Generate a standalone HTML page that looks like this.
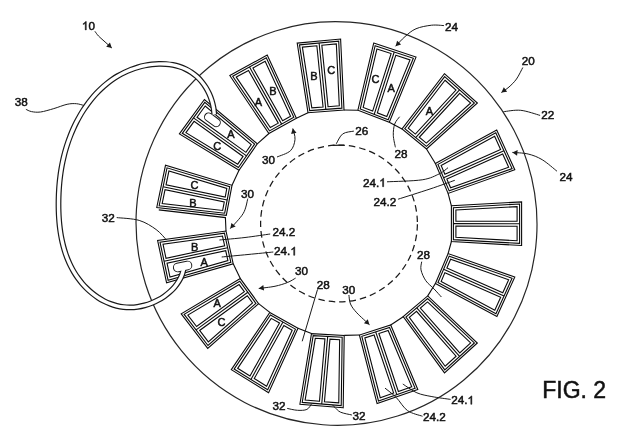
<!DOCTYPE html>
<html><head><meta charset="utf-8"><style>
html,body{margin:0;padding:0;background:#fff;width:640px;height:442px;overflow:hidden;font-family:"Liberation Sans",sans-serif}
svg{display:block;filter:grayscale(1)}
text{-webkit-font-smoothing:antialiased}
</style></head><body>
<svg width="640" height="442" viewBox="0 0 640 442">
<rect width="640" height="442" fill="#fff"/>
<ellipse cx="336.52" cy="223.48" rx="200.35" ry="201.95" transform="rotate(162.41 336.52 223.48)" fill="none" stroke="#262626" stroke-width="1.2"/>
<circle cx="339" cy="223.5" r="78.4" fill="none" stroke="#1a1a1a" stroke-width="1.25" stroke-dasharray="6.5 4" stroke-dashoffset="9.7"/>
<path d="M332.6 145.3 L344.2 145.2" stroke="#1a1a1a" stroke-width="1.25" fill="none"/>
<g fill="none" stroke="#0a0a0a" stroke-width="1.1" stroke-linejoin="miter">
<path d="M156.75 207.50 L165.50 165.30 L232.00 185.30 L226.30 215.40 Z"/>
<path d="M159.15 205.76 L167.02 167.84 L229.70 186.70 L224.68 213.20 Z"/>
<path d="M163.08 186.80 L227.19 199.95"/>
<path d="M162.16 203.59 L165.03 189.75 L224.28 201.90 L222.66 210.46 Z"/>
<path d="M166.04 184.86 L168.91 171.02 L226.82 188.44 L225.21 196.99 Z"/>
<path d="M179.40 133.90 L204.40 99.50 L257.30 143.80 L239.00 170.20 Z"/>
<path d="M182.29 133.32 L204.76 102.41 L254.62 144.16 L238.43 167.51 Z"/>
<path d="M193.53 117.86 L246.52 155.84"/>
<path d="M185.91 132.60 L194.09 121.34 L243.07 156.43 L237.72 164.15 Z"/>
<path d="M197.03 117.30 L205.21 106.04 L251.26 144.61 L245.92 152.33 Z"/>
<path d="M229.80 75.50 L267.20 55.10 L296.40 118.20 L268.90 133.50 Z"/>
<path d="M232.69 76.20 L266.28 57.88 L293.81 117.35 L269.53 130.86 Z"/>
<path d="M249.48 67.04 L281.67 124.11"/>
<path d="M236.29 77.08 L248.52 70.42 L278.26 123.15 L270.32 127.56 Z"/>
<path d="M252.91 68.02 L265.13 61.35 L290.56 116.30 L282.63 120.71 Z"/>
<path d="M297.20 43.10 L340.60 39.00 L344.00 110.00 L308.00 112.70 Z"/>
<path d="M299.50 44.89 L338.70 41.19 L341.91 108.15 L309.69 110.57 Z"/>
<path d="M319.10 43.04 L325.80 109.36"/>
<path d="M302.38 47.13 L316.86 45.76 L323.06 107.06 L311.81 107.90 Z"/>
<path d="M321.84 45.29 L336.33 43.92 L339.30 105.84 L328.04 106.68 Z"/>
<path d="M373.70 43.10 L416.00 57.10 L389.30 122.30 L357.90 110.20 Z"/>
<path d="M375.15 45.69 L413.34 58.33 L388.19 119.73 L360.25 108.96 Z"/>
<path d="M394.24 52.01 L374.22 114.35"/>
<path d="M376.95 48.92 L391.10 53.60 L372.65 111.06 L363.18 107.41 Z"/>
<path d="M395.85 55.17 L410.01 59.86 L386.81 116.52 L377.32 112.86 Z"/>
<path d="M444.40 73.70 L477.40 103.00 L426.50 149.00 L402.00 129.00 Z"/>
<path d="M444.68 76.62 L474.40 103.01 L426.43 146.36 L404.77 128.68 Z"/>
<path d="M459.54 89.82 L415.60 137.52"/>
<path d="M445.03 80.28 L455.98 90.00 L415.36 134.09 L408.23 128.27 Z"/>
<path d="M459.72 93.32 L470.66 103.03 L426.35 143.07 L419.24 137.26 Z"/>
<path d="M496.70 130.00 L514.80 169.80 L448.10 193.40 L435.40 163.50 Z"/>
<path d="M495.77 132.79 L512.08 168.64 L449.21 190.89 L437.95 164.39 Z"/>
<path d="M503.92 150.71 L443.58 177.64"/>
<path d="M494.61 136.27 L500.61 149.46 L444.88 174.32 L441.14 165.49 Z"/>
<path d="M502.68 154.01 L508.67 167.19 L450.59 187.75 L446.84 178.92 Z"/>
<path d="M521.60 201.90 L521.60 245.50 L451.40 241.50 L451.40 205.80 Z"/>
<path d="M519.60 204.01 L519.60 243.38 L453.40 239.61 L453.40 207.69 Z"/>
<path d="M519.60 223.70 L453.40 223.65"/>
<path d="M517.10 206.66 L517.10 221.20 L455.90 221.15 L455.90 210.06 Z"/>
<path d="M517.10 226.20 L517.10 240.74 L455.90 237.25 L455.90 226.15 Z"/>
<path d="M514.80 277.10 L496.90 316.40 L435.40 283.50 L448.10 253.60 Z"/>
<path d="M512.07 278.26 L495.96 313.63 L437.96 282.60 L449.21 256.11 Z"/>
<path d="M504.02 295.95 L443.58 269.35"/>
<path d="M508.67 279.71 L502.77 292.66 L446.85 268.06 L450.59 259.25 Z"/>
<path d="M500.69 297.21 L494.79 310.17 L441.15 281.47 L444.89 272.66 Z"/>
<path d="M477.30 343.00 L444.50 372.90 L403.20 316.70 L427.70 295.90 Z"/>
<path d="M474.36 342.97 L444.80 369.92 L405.92 317.02 L427.63 298.59 Z"/>
<path d="M459.58 356.45 L416.77 307.80"/>
<path d="M470.69 342.93 L459.78 352.89 L420.33 308.06 L427.53 301.95 Z"/>
<path d="M456.08 356.25 L445.16 366.21 L409.31 317.42 L416.52 311.30 Z"/>
<path d="M417.80 389.50 L377.10 403.60 L359.40 335.00 L390.70 325.00 Z"/>
<path d="M415.13 388.31 L378.49 401.00 L361.81 336.33 L389.57 327.46 Z"/>
<path d="M396.81 394.65 L375.69 331.90"/>
<path d="M411.79 386.82 L398.38 391.47 L378.87 333.50 L388.15 330.54 Z"/>
<path d="M393.65 393.10 L380.24 397.75 L364.82 337.99 L374.10 335.03 Z"/>
<path d="M343.20 407.80 L299.90 404.20 L311.50 333.60 L344.20 335.40 Z"/>
<path d="M341.23 405.63 L302.22 402.39 L313.18 335.70 L342.17 337.29 Z"/>
<path d="M321.73 404.01 L327.68 336.49"/>
<path d="M338.77 402.92 L324.44 401.72 L329.96 339.12 L339.64 339.66 Z"/>
<path d="M319.46 401.31 L305.13 400.12 L315.29 338.32 L324.96 338.85 Z"/>
<path d="M268.60 392.70 L231.30 369.70 L269.80 312.40 L298.00 328.30 Z"/>
<path d="M267.72 389.81 L234.12 369.09 L270.43 315.05 L295.42 329.14 Z"/>
<path d="M250.92 379.45 L282.92 322.10"/>
<path d="M266.62 386.19 L254.27 378.58 L283.88 325.51 L292.19 330.19 Z"/>
<path d="M250.01 375.95 L237.64 368.33 L271.21 318.36 L279.53 323.05 Z"/>
<path d="M207.70 348.40 L181.20 313.80 L240.30 278.60 L258.60 303.60 Z"/>
<path d="M207.99 345.48 L184.15 314.37 L239.76 281.25 L255.91 303.31 Z"/>
<path d="M196.07 329.93 L247.83 292.28"/>
<path d="M208.34 341.84 L199.61 330.44 L247.29 295.77 L252.54 302.94 Z"/>
<path d="M196.57 326.47 L187.85 315.08 L239.09 284.56 L244.34 291.73 Z"/>
<path d="M166.60 282.80 L157.60 240.40 L226.00 231.00 L233.20 263.80 Z"/>
<path d="M168.11 280.29 L160.00 242.09 L224.44 233.23 L230.84 262.39 Z"/>
<path d="M164.06 261.19 L227.64 247.81"/>
<path d="M170.00 277.15 L167.02 263.12 L225.73 250.77 L227.90 260.63 Z"/>
<path d="M165.98 258.23 L163.01 244.20 L222.50 236.02 L224.66 245.89 Z"/>
<path d="M232.00 185.30 L239.00 170.20"/>
<path d="M257.30 143.80 L268.90 133.50"/>
<path d="M296.40 118.20 L308.00 112.70"/>
<path d="M344.00 110.00 L357.90 110.20"/>
<path d="M389.30 122.30 L402.00 129.00"/>
<path d="M426.50 149.00 L435.40 163.50"/>
<path d="M448.10 193.40 L451.40 205.80"/>
<path d="M451.40 241.50 L448.10 253.60"/>
<path d="M435.40 283.50 L427.70 295.90"/>
<path d="M403.20 316.70 L390.70 325.00"/>
<path d="M359.40 335.00 L344.20 335.40"/>
<path d="M311.50 333.60 L298.00 328.30"/>
<path d="M269.80 312.40 L258.60 303.60"/>
<path d="M240.30 278.60 L233.20 263.80"/>
<path d="M158.80 209.90 L225.40 217.60 L226.00 231.00"/>
</g>
<g fill="none" stroke="#1a1a1a" stroke-width="1">
<path d="M116.70 217.60 C120.45 218.07 132.63 218.42 139.20 220.40 C145.77 222.38 151.53 226.22 156.10 229.50 C160.67 232.78 164.85 238.33 166.60 240.10"/>
<path d="M25.90 109.30 C26.83 109.68 29.07 111.15 31.50 111.60 C33.93 112.05 36.78 112.50 40.50 112.00 C44.22 111.50 49.37 109.88 53.80 108.60 C58.23 107.32 63.33 105.12 67.10 104.30 C70.87 103.48 73.58 103.50 76.40 103.70 C79.22 103.90 82.73 105.20 84.00 105.50"/>
<path d="M540.10 115.40 C536.87 114.55 526.82 110.92 520.70 110.30 C514.58 109.68 506.28 111.47 503.40 111.70"/>
<path d="M353.90 131.10 C352.03 131.57 345.63 131.79 342.70 133.90 C339.77 136.01 337.37 142.11 336.30 143.75"/>
<path d="M395.40 147.30 C395.05 145.30 393.42 139.18 393.30 135.30 C393.18 131.42 393.65 127.09 394.70 124.00 C395.75 120.91 398.78 117.96 399.60 116.75"/>
<path d="M387.00 181.80 C392.87 181.47 413.47 181.14 422.20 179.80 C430.93 178.46 435.10 175.77 439.40 173.75 C443.70 171.73 446.57 168.71 448.00 167.70"/>
<path d="M398.10 199.20 C403.42 197.50 420.55 192.15 430.00 189.00 C439.45 185.85 450.67 181.75 454.80 180.30"/>
<path d="M270.20 234.00 C266.00 234.58 253.47 236.50 245.00 237.50 C236.53 238.50 223.67 239.58 219.40 240.00"/>
<path d="M273.30 252.00 C269.08 252.42 256.60 253.67 248.00 254.50 C239.40 255.33 226.08 256.58 221.70 257.00"/>
<path d="M421.70 261.70 C421.58 263.07 420.32 266.73 421.00 269.90 C421.68 273.07 423.63 277.53 425.80 280.70 C427.97 283.87 431.40 286.18 434.00 288.90 C436.60 291.62 440.17 295.65 441.40 297.00"/>
<path d="M317.50 289.50 L302.20 341.30"/>
<path d="M287.20 408.40 C288.92 408.72 294.22 410.13 297.50 410.30 C300.78 410.47 304.55 410.49 306.90 409.40 C309.25 408.31 310.82 404.69 311.60 403.75"/>
<path d="M351.90 415.00 C350.02 414.53 343.42 413.45 340.60 412.20 C337.78 410.95 336.40 408.75 335.00 407.50 C333.60 406.25 332.67 405.17 332.20 404.70"/>
<path d="M450.60 399.40 C447.48 398.93 437.52 397.70 431.90 396.60 C426.28 395.50 421.75 394.90 416.90 392.80 C412.05 390.70 405.15 385.47 402.80 384.00"/>
<path d="M422.50 416.25 C420.00 415.31 411.88 413.73 407.50 410.60 C403.12 407.48 400.00 401.25 396.25 397.50 C392.50 393.75 386.88 389.67 385.00 388.10"/>
<path d="M94.90 31.30 C95.50 32.08 96.98 34.38 98.50 36.00 C100.02 37.62 101.78 39.00 104.00 41.00 C106.22 43.00 110.50 46.83 111.80 48.00"/>
<path d="M444.00 25.60 C441.93 25.53 436.27 24.68 431.60 25.20 C426.93 25.72 420.43 26.85 416.00 28.75 C411.57 30.65 408.40 33.68 405.00 36.60 C401.60 39.52 397.17 44.64 395.60 46.25"/>
<path d="M522.80 67.50 C521.75 69.42 518.80 75.75 516.50 79.00 C514.20 82.25 511.52 84.75 509.00 87.00 C506.48 89.25 502.67 91.58 501.40 92.50"/>
<path d="M556.95 171.20 C554.49 169.28 547.01 162.57 542.20 159.70 C537.39 156.83 533.07 155.22 528.10 154.00 C523.13 152.78 515.02 152.67 512.40 152.40"/>
<path d="M277.00 157.00 C279.25 155.95 287.50 153.63 290.50 150.70 C293.50 147.77 294.62 143.10 295.00 139.40 C295.38 135.70 293.17 130.32 292.80 128.50"/>
<path d="M247.80 198.60 C247.05 201.05 246.22 208.30 243.30 213.30 C240.38 218.30 232.47 226.05 230.30 228.60"/>
<path d="M295.60 278.10 C294.25 278.83 290.93 281.14 287.50 282.50 C284.07 283.86 279.79 285.25 275.00 286.25 C270.21 287.25 261.46 288.12 258.75 288.50"/>
<path d="M348.90 295.00 C349.17 296.50 349.18 301.03 350.50 304.00 C351.82 306.97 353.63 309.35 356.80 312.80 C359.97 316.25 367.38 322.72 369.50 324.70"/>
</g>
<g fill="#1a1a1a">
<path d="M111.80 48.00 L106.21 46.74 L109.95 42.58 Z"/>
<path d="M395.60 46.25 L397.08 40.71 L401.09 44.62 Z"/>
<path d="M501.40 92.50 L503.81 87.30 L507.09 91.84 Z"/>
<path d="M512.40 152.40 L517.66 150.12 L517.09 155.69 Z"/>
<path d="M292.80 128.50 L296.53 132.85 L291.04 133.96 Z"/>
<path d="M230.30 228.60 L231.40 222.98 L235.67 226.60 Z"/>
<path d="M258.75 288.50 L263.32 285.04 L264.09 290.59 Z"/>
<path d="M369.50 324.70 L363.94 323.32 L367.77 319.24 Z"/>
</g>
<path d="M214.30 114.51 C214.16 113.32 213.90 109.73 213.46 107.37 C213.03 105.00 212.43 102.63 211.70 100.33 C210.96 98.04 210.08 95.75 209.07 93.57 C208.06 91.39 206.91 89.25 205.66 87.23 C204.40 85.22 203.01 83.27 201.53 81.47 C200.05 79.68 198.45 77.98 196.76 76.45 C195.08 74.92 193.28 73.54 191.42 72.30 C189.56 71.06 187.60 69.97 185.59 69.02 C183.58 68.07 181.48 67.26 179.35 66.57 C177.21 65.89 175.01 65.35 172.78 64.92 C170.55 64.50 168.26 64.21 165.96 64.03 C163.66 63.86 161.32 63.81 158.97 63.86 C156.63 63.92 154.26 64.10 151.90 64.37 C149.54 64.65 147.17 65.04 144.82 65.53 C142.48 66.02 140.13 66.61 137.82 67.29 C135.51 67.98 133.22 68.76 130.98 69.63 C128.73 70.49 126.52 71.45 124.37 72.49 C122.22 73.53 120.12 74.65 118.07 75.85 C116.03 77.04 114.05 78.32 112.12 79.66 C110.18 81.01 108.31 82.43 106.49 83.91 C104.67 85.38 102.91 86.93 101.20 88.54 C99.49 90.14 97.83 91.81 96.23 93.52 C94.63 95.24 93.09 97.01 91.59 98.83 C90.10 100.65 88.66 102.52 87.28 104.43 C85.89 106.33 84.56 108.29 83.29 110.28 C82.01 112.26 80.78 114.29 79.61 116.34 C78.44 118.40 77.32 120.49 76.25 122.60 C75.18 124.71 74.17 126.85 73.21 129.00 C72.24 131.15 71.33 133.33 70.47 135.52 C69.61 137.71 68.81 139.91 68.05 142.12 C67.29 144.33 66.58 146.55 65.93 148.78 C65.27 151.00 64.66 153.23 64.10 155.47 C63.54 157.71 63.03 159.96 62.56 162.22 C62.09 164.48 61.67 166.74 61.28 169.02 C60.90 171.29 60.57 173.58 60.27 175.87 C59.97 178.16 59.71 180.47 59.49 182.78 C59.27 185.09 59.09 187.41 58.95 189.75 C58.80 192.08 58.70 194.42 58.62 196.78 C58.55 199.13 58.51 201.50 58.50 203.87 C58.50 206.25 58.53 208.63 58.60 211.02 C58.68 213.40 58.79 215.79 58.95 218.17 C59.11 220.56 59.31 222.94 59.57 225.32 C59.82 227.69 60.13 230.06 60.49 232.41 C60.85 234.76 61.27 237.11 61.75 239.43 C62.22 241.75 62.76 244.05 63.36 246.33 C63.97 248.61 64.63 250.86 65.38 253.09 C66.12 255.31 66.92 257.51 67.81 259.67 C68.69 261.83 69.65 263.96 70.69 266.04 C71.73 268.13 72.84 270.18 74.05 272.18 C75.25 274.18 76.54 276.14 77.91 278.04 C79.28 279.93 80.74 281.79 82.27 283.56 C83.80 285.34 85.41 287.06 87.09 288.69 C88.76 290.32 90.51 291.89 92.32 293.35 C94.13 294.81 96.01 296.19 97.94 297.46 C99.87 298.73 101.86 299.91 103.90 300.96 C105.94 302.01 108.03 302.96 110.17 303.77 C112.30 304.59 114.49 305.28 116.71 305.83 C118.93 306.38 121.19 306.80 123.48 307.06 C125.77 307.32 128.11 307.44 130.45 307.40 C132.79 307.36 135.17 307.15 137.53 306.81 C139.89 306.48 142.27 305.98 144.59 305.36 C146.92 304.74 149.25 303.98 151.50 303.09 C153.75 302.20 155.98 301.18 158.11 300.05 C160.24 298.92 162.32 297.65 164.29 296.29 C166.25 294.93 168.14 293.44 169.89 291.86 C171.64 290.29 173.29 288.60 174.78 286.82 C176.27 285.05 177.64 283.17 178.82 281.21 C180.01 279.26 181.05 277.21 181.88 275.09 C182.71 272.97 183.48 269.60 183.80 268.50" fill="none" stroke="#1a1a1a" stroke-width="5.80" stroke-linecap="butt"/>
<rect x="203.10" y="115.20" width="18.60" height="9.20" rx="4.60" ry="4.60" transform="rotate(36.0 212.40 119.80)" fill="#1a1a1a"/>
<rect x="172.80" y="261.70" width="19.60" height="9.60" rx="4.80" ry="4.80" transform="rotate(-12.0 182.60 266.50)" fill="#1a1a1a"/>
<path d="M214.30 114.51 C214.16 113.32 213.90 109.73 213.46 107.37 C213.03 105.00 212.43 102.63 211.70 100.33 C210.96 98.04 210.08 95.75 209.07 93.57 C208.06 91.39 206.91 89.25 205.66 87.23 C204.40 85.22 203.01 83.27 201.53 81.47 C200.05 79.68 198.45 77.98 196.76 76.45 C195.08 74.92 193.28 73.54 191.42 72.30 C189.56 71.06 187.60 69.97 185.59 69.02 C183.58 68.07 181.48 67.26 179.35 66.57 C177.21 65.89 175.01 65.35 172.78 64.92 C170.55 64.50 168.26 64.21 165.96 64.03 C163.66 63.86 161.32 63.81 158.97 63.86 C156.63 63.92 154.26 64.10 151.90 64.37 C149.54 64.65 147.17 65.04 144.82 65.53 C142.48 66.02 140.13 66.61 137.82 67.29 C135.51 67.98 133.22 68.76 130.98 69.63 C128.73 70.49 126.52 71.45 124.37 72.49 C122.22 73.53 120.12 74.65 118.07 75.85 C116.03 77.04 114.05 78.32 112.12 79.66 C110.18 81.01 108.31 82.43 106.49 83.91 C104.67 85.38 102.91 86.93 101.20 88.54 C99.49 90.14 97.83 91.81 96.23 93.52 C94.63 95.24 93.09 97.01 91.59 98.83 C90.10 100.65 88.66 102.52 87.28 104.43 C85.89 106.33 84.56 108.29 83.29 110.28 C82.01 112.26 80.78 114.29 79.61 116.34 C78.44 118.40 77.32 120.49 76.25 122.60 C75.18 124.71 74.17 126.85 73.21 129.00 C72.24 131.15 71.33 133.33 70.47 135.52 C69.61 137.71 68.81 139.91 68.05 142.12 C67.29 144.33 66.58 146.55 65.93 148.78 C65.27 151.00 64.66 153.23 64.10 155.47 C63.54 157.71 63.03 159.96 62.56 162.22 C62.09 164.48 61.67 166.74 61.28 169.02 C60.90 171.29 60.57 173.58 60.27 175.87 C59.97 178.16 59.71 180.47 59.49 182.78 C59.27 185.09 59.09 187.41 58.95 189.75 C58.80 192.08 58.70 194.42 58.62 196.78 C58.55 199.13 58.51 201.50 58.50 203.87 C58.50 206.25 58.53 208.63 58.60 211.02 C58.68 213.40 58.79 215.79 58.95 218.17 C59.11 220.56 59.31 222.94 59.57 225.32 C59.82 227.69 60.13 230.06 60.49 232.41 C60.85 234.76 61.27 237.11 61.75 239.43 C62.22 241.75 62.76 244.05 63.36 246.33 C63.97 248.61 64.63 250.86 65.38 253.09 C66.12 255.31 66.92 257.51 67.81 259.67 C68.69 261.83 69.65 263.96 70.69 266.04 C71.73 268.13 72.84 270.18 74.05 272.18 C75.25 274.18 76.54 276.14 77.91 278.04 C79.28 279.93 80.74 281.79 82.27 283.56 C83.80 285.34 85.41 287.06 87.09 288.69 C88.76 290.32 90.51 291.89 92.32 293.35 C94.13 294.81 96.01 296.19 97.94 297.46 C99.87 298.73 101.86 299.91 103.90 300.96 C105.94 302.01 108.03 302.96 110.17 303.77 C112.30 304.59 114.49 305.28 116.71 305.83 C118.93 306.38 121.19 306.80 123.48 307.06 C125.77 307.32 128.11 307.44 130.45 307.40 C132.79 307.36 135.17 307.15 137.53 306.81 C139.89 306.48 142.27 305.98 144.59 305.36 C146.92 304.74 149.25 303.98 151.50 303.09 C153.75 302.20 155.98 301.18 158.11 300.05 C160.24 298.92 162.32 297.65 164.29 296.29 C166.25 294.93 168.14 293.44 169.89 291.86 C171.64 290.29 173.29 288.60 174.78 286.82 C176.27 285.05 177.64 283.17 178.82 281.21 C180.01 279.26 181.05 277.21 181.88 275.09 C182.71 272.97 183.48 269.60 183.80 268.50" fill="none" stroke="#fff" stroke-width="3.40" stroke-linecap="butt"/>
<rect x="204.10" y="116.20" width="16.60" height="7.20" rx="3.60" ry="3.60" transform="rotate(36.0 212.40 119.80)" fill="#fff"/>
<rect x="173.80" y="262.70" width="17.60" height="7.60" rx="3.80" ry="3.80" transform="rotate(-12.0 182.60 266.50)" fill="#fff"/>
<g font-family="Liberation Sans, sans-serif" fill="#111" stroke="#111" stroke-width="0.5" style="opacity:0.999">
<path d="M763 0H583V1147Q518 1085 412 1023Q307 961 223 930V1104Q374 1175 487 1276Q600 1377 647 1472H763Z" transform="translate(81.92 29.90) scale(0.00571 -0.00571)" stroke-width="87.5"/>
<text x="88.43" y="29.90" font-size="11.70">0</text>
<text x="14.67" y="106.40" font-size="11.70">38</text>
<text x="444.92" y="31.10" font-size="11.70">24</text>
<text x="521.82" y="64.70" font-size="11.70">20</text>
<text x="541.32" y="119.10" font-size="11.70">22</text>
<text x="559.41" y="180.50" font-size="11.70">24</text>
<text x="355.22" y="135.00" font-size="11.70">26</text>
<text x="394.62" y="157.90" font-size="11.70">28</text>
<text x="363.01" y="186.70" font-size="11.70">24.</text>
<path d="M763 0H583V1147Q518 1085 412 1023Q307 961 223 930V1104Q374 1175 487 1276Q600 1377 647 1472H763Z" transform="translate(379.28 186.70) scale(0.00571 -0.00571)" stroke-width="87.5"/>
<text x="373.62" y="206.10" font-size="11.70">24.2</text>
<text x="261.97" y="163.50" font-size="11.70">30</text>
<text x="240.97" y="197.60" font-size="11.70">30</text>
<text x="101.67" y="221.50" font-size="11.70">32</text>
<text x="272.62" y="235.80" font-size="11.70">24.2</text>
<text x="274.12" y="255.30" font-size="11.70">24.</text>
<path d="M763 0H583V1147Q518 1085 412 1023Q307 961 223 930V1104Q374 1175 487 1276Q600 1377 647 1472H763Z" transform="translate(290.38 255.30) scale(0.00571 -0.00571)" stroke-width="87.5"/>
<text x="417.01" y="259.40" font-size="11.70">28</text>
<text x="294.97" y="275.30" font-size="11.70">30</text>
<text x="316.81" y="289.00" font-size="11.70">28</text>
<text x="342.17" y="293.50" font-size="11.70">30</text>
<text x="272.42" y="410.00" font-size="11.70">32</text>
<text x="352.47" y="419.95" font-size="11.70">32</text>
<text x="451.22" y="404.30" font-size="11.70">24.</text>
<path d="M763 0H583V1147Q518 1085 412 1023Q307 961 223 930V1104Q374 1175 487 1276Q600 1377 647 1472H763Z" transform="translate(467.48 404.30) scale(0.00571 -0.00571)" stroke-width="87.5"/>
<text x="423.01" y="420.70" font-size="11.70">24.2</text>
<text x="310.18" y="79.50" font-size="11.00">B</text>
<text x="327.25" y="74.10" font-size="11.00">C</text>
<text x="371.55" y="83.30" font-size="11.00">C</text>
<text x="387.50" y="91.70" font-size="11.00">A</text>
<text x="425.70" y="115.00" font-size="11.00">A</text>
<text x="190.45" y="189.00" font-size="11.00">C</text>
<text x="189.18" y="206.60" font-size="11.00">B</text>
<text x="190.88" y="250.60" font-size="11.00">B</text>
<text x="200.60" y="265.60" font-size="11.00">A</text>
<text x="227.20" y="138.30" font-size="11.00">A</text>
<text x="213.15" y="150.40" font-size="11.00">C</text>
<text x="254.80" y="105.60" font-size="11.00">A</text>
<text x="269.27" y="95.40" font-size="11.00">B</text>
<text x="213.40" y="307.30" font-size="11.00">A</text>
<text x="217.55" y="326.20" font-size="11.00">C</text>
<text x="542.2" y="398.2" font-size="23">FIG. 2</text>
</g>
</svg>
</body></html>
